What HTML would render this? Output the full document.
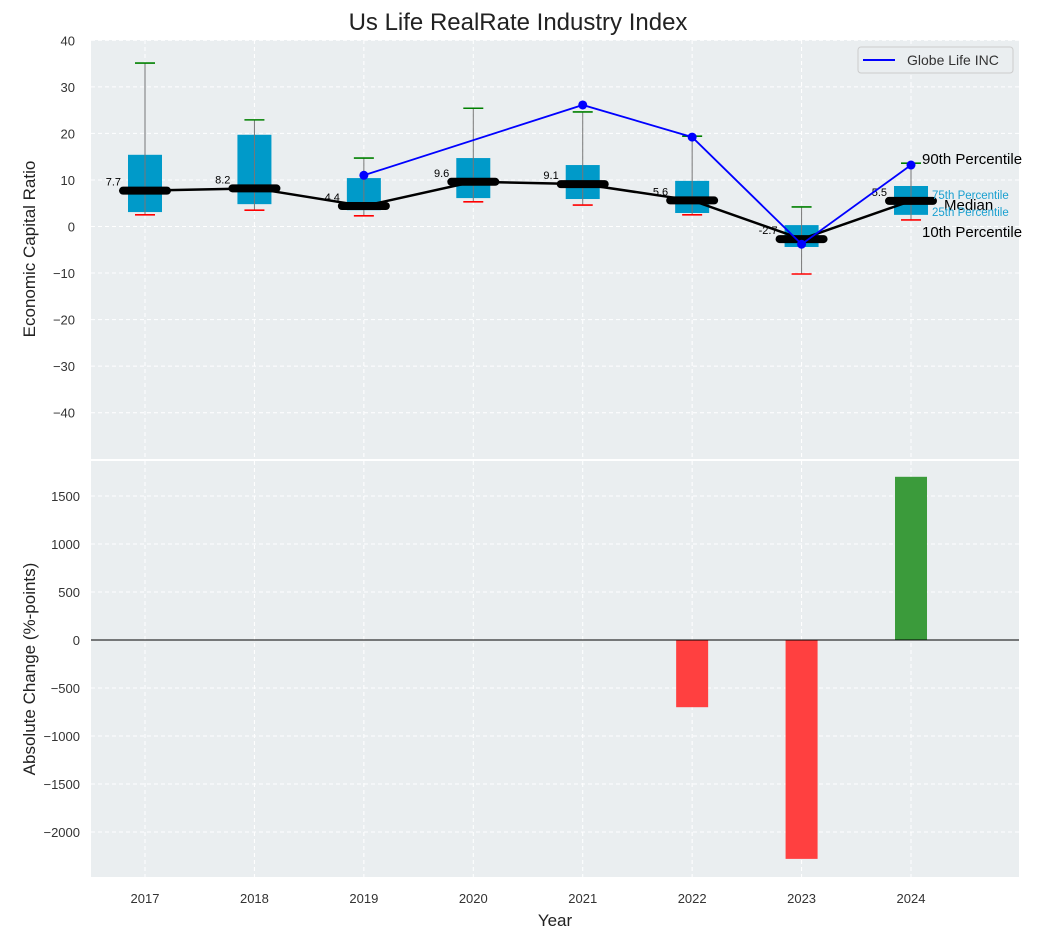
<!DOCTYPE html>
<html><head><meta charset="utf-8"><style>
body{margin:0;background:#fff;font-family:"Liberation Sans","DejaVu Sans",sans-serif}
svg text{font-family:"Liberation Sans","DejaVu Sans",sans-serif}
</style></head><body>
<svg id="chart" width="1043" height="940" xmlns="http://www.w3.org/2000/svg">
<text x="518" y="30" font-size="24" text-anchor="middle" fill="#222">Us Life RealRate Industry Index</text>
<rect x="91" y="40" width="928" height="419" fill="#eaeef0"/>
<rect x="91" y="461" width="928" height="416" fill="#eaeef0"/>
<g id="g-grid"></g>
<g id="g-top"></g>
<g id="g-bot"></g>
<text x="35" y="249" font-size="17" text-anchor="middle" fill="#222" transform="rotate(-90 35 249)">Economic Capital Ratio</text>
<text x="35" y="669" font-size="17" text-anchor="middle" fill="#222" transform="rotate(-90 35 669)">Absolute Change (%-points)</text>
<text x="555" y="926" font-size="17" text-anchor="middle" fill="#222">Year</text>
<g>
<rect x="858" y="47" width="155" height="26" rx="3" fill="#eaeef0" stroke="#ccc"/>
<line x1="863" y1="60" x2="895" y2="60" stroke="#0000ff" stroke-width="2"/>
<text x="907" y="65" font-size="14" fill="#333">Globe Life INC</text>
</g>
</svg>
<script>
const years=[2017,2018,2019,2020,2021,2022,2023,2024];
const p90=[35.1,22.9,14.7,25.4,24.6,19.4,4.2,13.6];
const p75=[15.4,19.7,10.4,14.7,13.2,9.8,0.3,8.7];
const median=[7.7,8.2,4.4,9.6,9.1,5.6,-2.7,5.5];
const p25=[3.1,4.8,3.5,6.1,5.9,2.9,-4.4,2.5];
const p10=[2.5,3.5,2.3,5.3,4.6,2.5,-10.2,1.4];
const companyYears=[2019,2020,2021,2022,2023,2024];
const company=[11.0,null,26.1,19.2,-3.8,13.2];
const changeYears=[2022,2023,2024];
const changes=[-700,-2280,1700];
const topTicks=[40,30,20,10,0,-10,-20,-30,-40];
const botTicks=[1500,1000,500,0,-500,-1000,-1500,-2000];

const NS="http://www.w3.org/2000/svg";
const X=y=>145+(y-2017)*109.43;
const YT=v=>226.5-v*4.656;
const YB=v=>640-v*0.096;
function mk(parent,tag,attrs,text){const e=document.createElementNS(NS,tag);for(const k in attrs)e.setAttribute(k,attrs[k]);if(text!==undefined)e.textContent=text;document.getElementById(parent).appendChild(e);return e;}

years.forEach(y=>{
  let e=mk('g-grid','line',{x1:X(y),x2:X(y),y1:40,y2:459,stroke:'#fff','stroke-dasharray':'4,3','stroke-width':1});
  
  
  e=mk('g-grid','line',{x1:X(y),x2:X(y),y1:461,y2:877,stroke:'#fff','stroke-dasharray':'4,3','stroke-width':1});
  
  
  e=mk('g-grid','text',{x:X(y),y:903,'font-size':13,'text-anchor':'middle',fill:'#333'},String(y));
  
  
});
topTicks.forEach(t=>{
  let e=mk('g-grid','line',{x1:91,x2:1019,y1:YT(t),y2:YT(t),stroke:'#fff','stroke-dasharray':'4,3'});
  
  
  e=mk('g-grid','text',{x:75,y:YT(t)+5,'font-size':13,'text-anchor':'end',fill:'#333'},t<0?'\u2212'+(-t):String(t));
  
  
});
botTicks.forEach(t=>{
  let e=mk('g-grid','line',{x1:91,x2:1019,y1:YB(t),y2:YB(t),stroke:'#fff','stroke-dasharray':'4,3'});
  
  
  e=mk('g-grid','text',{x:80,y:YB(t)+5,'font-size':13,'text-anchor':'end',fill:'#333'},t<0?'\u2212'+(-t):String(t));
  
  
});

years.forEach((y,i)=>{
  const x=X(y);
  let e=mk('g-top','rect',{x:x-17,y:YT(p75[i]),width:34,height:YT(p25[i])-YT(p75[i]),fill:'#009ac9'});
  
  
  e=mk('g-top','line',{x1:x,x2:x,y1:YT(p90[i]),y2:YT(p10[i]),stroke:'#777','stroke-width':1});
  
  
  e=mk('g-top','line',{x1:x-10,x2:x+10,y1:YT(p90[i]),y2:YT(p90[i]),stroke:'#008000','stroke-width':1.6});
  
  
  e=mk('g-top','line',{x1:x-10,x2:x+10,y1:YT(p10[i]),y2:YT(p10[i]),stroke:'#ff0000','stroke-width':1.6});
  
  
});
let pts=years.map((y,i)=>X(y)+','+YT(median[i])).join(' ');
let ml=mk('g-top','polyline',{points:pts,fill:'none',stroke:'#000','stroke-width':2.5});


years.forEach((y,i)=>{
  const x=X(y);
  let e=mk('g-top','line',{x1:x-22,x2:x+22,y1:YT(median[i]),y2:YT(median[i]),stroke:'#000','stroke-width':8,'stroke-linecap':'round'});
  
  
  e=mk('g-top','text',{x:x-24,y:YT(median[i])-5,'font-size':11,'text-anchor':'end',fill:'#000'},String(median[i]));
  
  
});
let cpts=[];companyYears.forEach((y,i)=>{if(company[i]!==null)cpts.push([X(y),YT(company[i])]);});
let cl=mk('g-top','polyline',{points:cpts.map(p=>p.join(',')).join(' '),fill:'none',stroke:'#0000ff','stroke-width':1.8});


cpts.forEach(p=>{
  let e=mk('g-top','circle',{cx:p[0],cy:p[1],r:4.5,fill:'#0000ff'});
  
  
});
const li=years.length-1,lx=X(years[li]);
const ym=YT(median[li]);
[[YT(p90[li])-3,'90th Percentile',11,15,'#000'],[ym-6,'75th Percentile',21,11.5,'#1aa0d0'],[ym+5,'Median',33,15,'#000'],[ym+11,'25th Percentile',21,11.5,'#1aa0d0'],[YT(p10[li])+13,'10th Percentile',11,15,'#000']].forEach(a=>{
  let e=mk('g-top','text',{x:lx+a[2],y:a[0]+4,'font-size':a[3],fill:a[4]},a[1]);
  
  
});
changeYears.forEach((y,i)=>{
  const v=changes[i];
  let e=mk('g-bot','rect',{x:X(y)-16,y:Math.min(YB(v),YB(0)),width:32,height:Math.abs(YB(v)-YB(0)),fill:v<0?'#ff4040':'#3b9b3b'});
  
  
});
let zl=mk('g-bot','line',{x1:91,x2:1019,y1:YB(0),y2:YB(0),stroke:'#000','stroke-width':1});


</script>
</body></html>
